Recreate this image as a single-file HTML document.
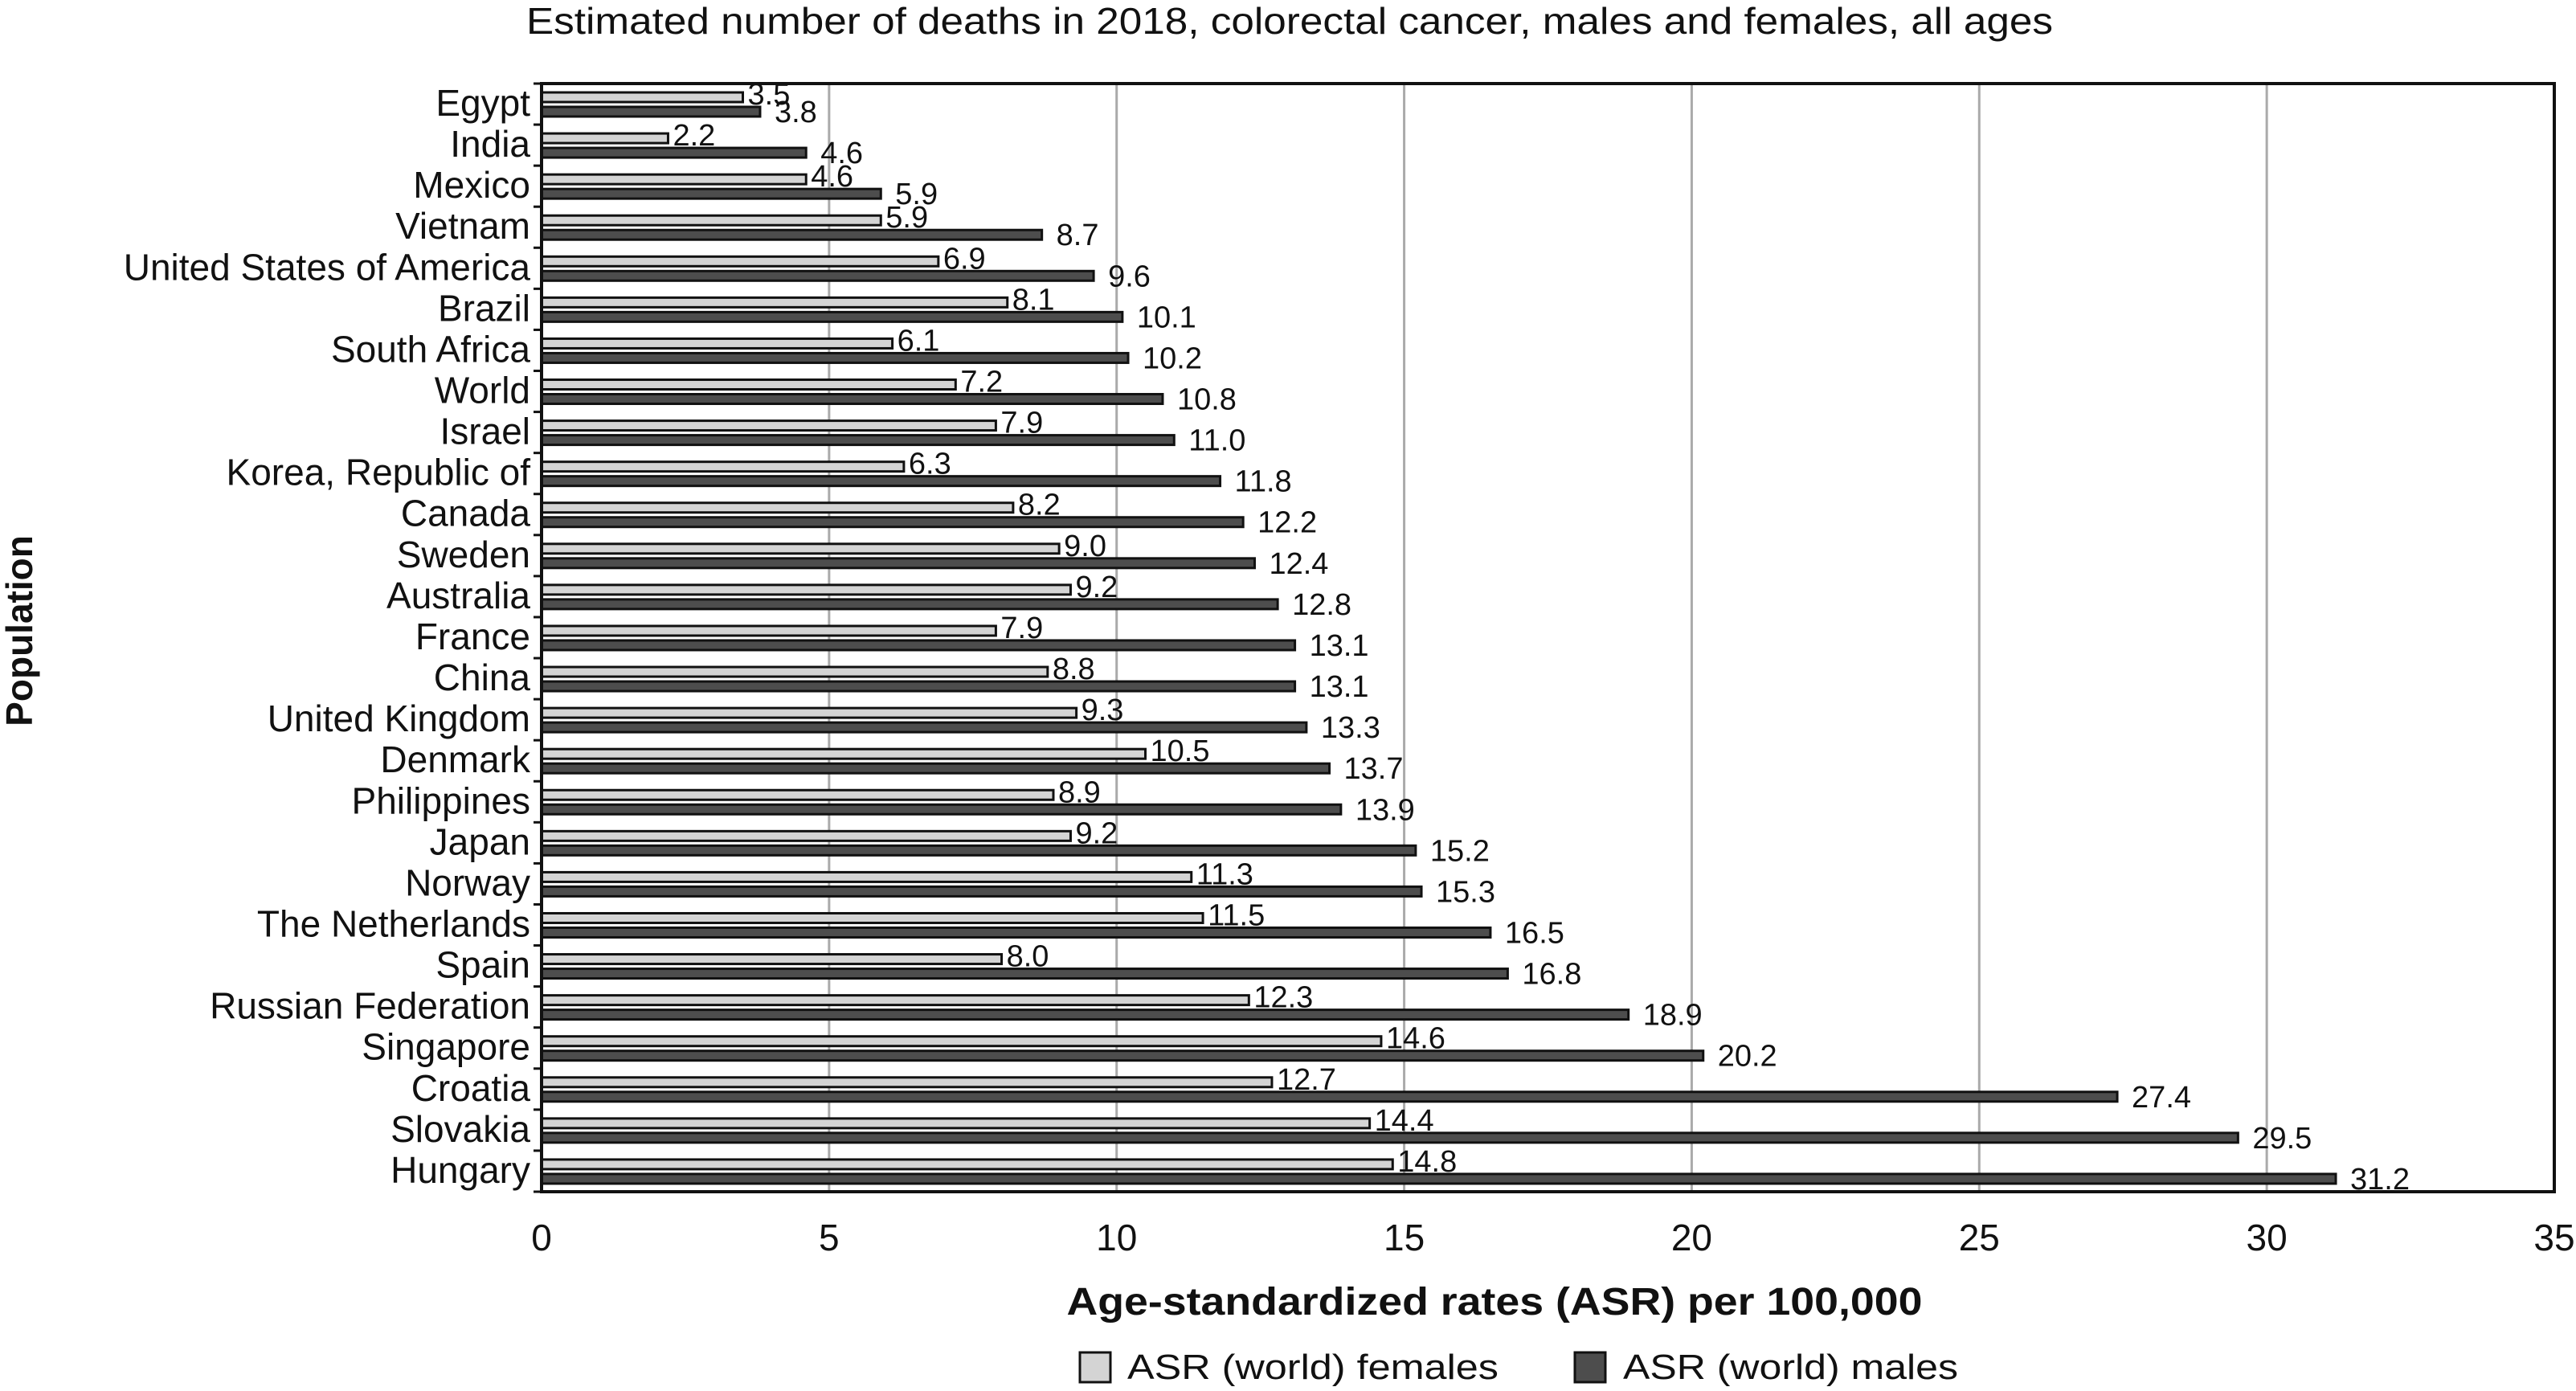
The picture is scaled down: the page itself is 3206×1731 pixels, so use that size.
<!DOCTYPE html>
<html><head><meta charset="utf-8"><style>
html,body{margin:0;padding:0;background:#fff}
svg{display:block}
text{font-family:"Liberation Sans Narrow","Liberation Sans",sans-serif;fill:#111}
</style></head><body>
<svg id="chart" width="3206" height="1731" viewBox="0 0 3206 1731" xmlns="http://www.w3.org/2000/svg">
<text x="1605" y="42" font-size="46" text-anchor="middle" textLength="1900" lengthAdjust="spacingAndGlyphs">Estimated number of deaths in 2018, colorectal cancer, males and females, all ages</text>
<g id="grid"></g>
<g id="bars"></g>
<g id="labels"></g>
<rect x="674" y="104" width="2505" height="1379" fill="none" stroke="#111" stroke-width="4"/>
<text transform="translate(40,785) rotate(-90)" font-size="46" font-weight="bold" text-anchor="middle" style="font-family:'Liberation Sans',sans-serif">Population</text>
<text x="1860" y="1636" font-size="48" font-weight="bold" text-anchor="middle" textLength="1065" lengthAdjust="spacingAndGlyphs">Age-standardized rates (ASR) per 100,000</text>
<g>
<rect x="1344" y="1683" width="38" height="37" fill="#d4d4d4" stroke="#111" stroke-width="3"/>
<text x="1403" y="1716" font-size="44" textLength="462" lengthAdjust="spacingAndGlyphs">ASR (world) females</text>
<rect x="1960" y="1683" width="38" height="37" fill="#4d4d4d" stroke="#111" stroke-width="3"/>
<text x="2020" y="1716" font-size="44" textLength="417" lengthAdjust="spacingAndGlyphs">ASR (world) males</text>
</g>
</svg>
<script>
const categories = ["Egypt","India","Mexico","Vietnam","United States of America","Brazil","South Africa","World","Israel","Korea, Republic of","Canada","Sweden","Australia","France","China","United Kingdom","Denmark","Philippines","Japan","Norway","The Netherlands","Spain","Russian Federation","Singapore","Croatia","Slovakia","Hungary"];
const females = [3.5,2.2,4.6,5.9,6.9,8.1,6.1,7.2,7.9,6.3,8.2,9.0,9.2,7.9,8.8,9.3,10.5,8.9,9.2,11.3,11.5,8.0,12.3,14.6,12.7,14.4,14.8];
const males = [3.8,4.6,5.9,8.7,9.6,10.1,10.2,10.8,11.0,11.8,12.2,12.4,12.8,13.1,13.1,13.3,13.7,13.9,15.2,15.3,16.5,16.8,18.9,20.2,27.4,29.5,31.2];
const xTicks = [0,5,10,15,20,25,30,35];

const NS = "http://www.w3.org/2000/svg";
const X0 = 674, X1 = 3179, Y0 = 104, Y1 = 1483, XMAX = 35;
const rowH = (Y1 - Y0) / categories.length;
const xs = v => X0 + (v / XMAX) * (X1 - X0);
function mk(tag, attrs, parent, txt){
  const e = document.createElementNS(NS, tag);
  for (const k in attrs) e.setAttribute(k, attrs[k]);
  if (txt !== undefined) e.textContent = txt;
  parent.appendChild(e); return e;
}
const grid = document.getElementById('grid'), bars = document.getElementById('bars'), labels = document.getElementById('labels');
xTicks.forEach(t => {
  if (t > 0 && t < XMAX) {
    const l = mk('line', {x1: xs(t), x2: xs(t), y1: Y0, y2: Y1, stroke: '#aaa', 'stroke-width': 3}, grid);
    
    
  }
  const tl = mk('text', {x: xs(t), y: 1556, 'font-size': 46, 'text-anchor': 'middle'}, labels, String(t));
  
  
});
for (let i = 0; i <= categories.length; i++) {
  const tk = mk('line', {x1: X0 - 10, x2: X0, y1: Y0 + i * rowH, y2: Y0 + i * rowH, stroke: '#111', 'stroke-width': 3}, grid);
  
  
}
categories.forEach((c, i) => {
  const top = Y0 + i * rowH;
  const cl = mk('text', {x: 660, y: top + 40, 'font-size': 46, 'text-anchor': 'end'}, labels, c);
  
  
  const fb = mk('rect', {x: X0, y: top + 11, width: xs(females[i]) - X0, height: 12, fill: '#d4d4d4', stroke: '#111', 'stroke-width': 3}, bars);
  
  
  const mb = mk('rect', {x: X0, y: top + 29, width: xs(males[i]) - X0, height: 12, fill: '#4d4d4d', stroke: '#111', 'stroke-width': 3}, bars);
  
  
  const fl = mk('text', {x: xs(females[i]) + 6, y: top + 26, 'font-size': 38}, labels, females[i].toFixed(1));
  
  
  const ml = mk('text', {x: xs(males[i]) + 18, y: top + 48, 'font-size': 38}, labels, males[i].toFixed(1));
  
  
});
</script>
</body></html>
